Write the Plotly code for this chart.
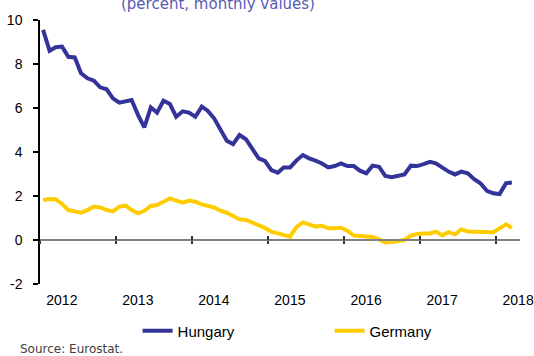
import pandas as pd
import plotly.graph_objects as go

# Monthly long-term interest rates (percent), Jan 2012 - Mar 2018
months = pd.date_range("2012-01-01", periods=75, freq="MS") + pd.Timedelta(days=15)

hungary = [
    9.55, 8.60, 8.76, 8.79, 8.33, 8.30, 7.58, 7.35, 7.24, 6.94, 6.85, 6.44,
    6.24, 6.30, 6.36, 5.68, 5.12, 6.03, 5.79, 6.33, 6.18, 5.60, 5.85, 5.79,
    5.60, 6.06, 5.88, 5.53, 5.00, 4.51, 4.36, 4.77, 4.58, 4.17, 3.71, 3.60,
    3.18, 3.06, 3.30, 3.30, 3.61, 3.86, 3.71, 3.61, 3.48, 3.30, 3.36, 3.48,
    3.36, 3.36, 3.15, 3.03, 3.38, 3.33, 2.91, 2.85, 2.91, 2.98, 3.38, 3.36,
    3.45, 3.55, 3.48, 3.29, 3.11, 2.98, 3.11, 3.03, 2.76, 2.58, 2.24, 2.12,
    2.09, 2.58, 2.61,
]

germany = [
    1.82, 1.86, 1.85, 1.64, 1.36, 1.29, 1.24, 1.36, 1.52, 1.48, 1.36, 1.30,
    1.52, 1.56, 1.36, 1.21, 1.33, 1.55, 1.59, 1.74, 1.89, 1.79, 1.70, 1.79,
    1.74, 1.62, 1.56, 1.48, 1.33, 1.24, 1.09, 0.94, 0.91, 0.79, 0.68, 0.55,
    0.38, 0.30, 0.24, 0.15, 0.58, 0.80, 0.71, 0.61, 0.65, 0.53, 0.53, 0.56,
    0.42, 0.20, 0.18, 0.15, 0.14, 0.03, -0.11, -0.09, -0.06, 0.00, 0.20, 0.27,
    0.29, 0.30, 0.38, 0.21, 0.36, 0.26, 0.48, 0.39, 0.38, 0.38, 0.35, 0.35,
    0.53, 0.71, 0.55,
]

years = ["2012", "2013", "2014", "2015", "2016", "2017", "2018"]
year_starts = [f"{y}-01-01" for y in years]
year_labels_at = [f"{y}-04-15" for y in years]
y_ticks = [-2, 0, 2, 4, 6, 8, 10]
y_labels = ["-2", "0", "2", "4", "6", "8", "10"]

x_range = ["2012-01-01", "2018-04-24"]
tick_font = dict(family="Liberation Sans, Arial, sans-serif", size=14, color="#000000")

fig = go.Figure()
fig.add_trace(go.Scatter(
    x=months, y=hungary, name="Hungary", mode="lines",
    line=dict(color="#333399", width=4),
))
fig.add_trace(go.Scatter(
    x=months, y=germany, name="Germany", mode="lines",
    line=dict(color="#FFCC00", width=4),
))
# invisible copies so the overlay axes (extra ticks, year labels) get drawn
for ax in ("x2", "x3"):
    fig.add_trace(go.Scatter(
        x=months, y=germany, xaxis=ax, mode="lines",
        line=dict(width=0), opacity=0, showlegend=False, hoverinfo="skip",
    ))

zero_pos = (0 - y_ticks[0]) / (y_ticks[-1] - y_ticks[0])

fig.update_layout(
    width=534, height=356,
    margin=dict(l=40, r=14, t=20, b=72, autoexpand=False),
    paper_bgcolor="white", plot_bgcolor="white",
    showlegend=True,
    legend=dict(
        orientation="h", x=0.17 + 16 / 480, xanchor="left",
        yref="container", y=1 - 331 / 356, yanchor="middle",
        font=dict(family="Liberation Sans, Arial, sans-serif", size=15, color="#000000"),
        entrywidth=147, traceorder="normal",
    ),
    # x axis line drawn through zero, ticks below it
    xaxis=dict(
        type="date", range=x_range, anchor="free", position=zero_pos,
        showline=True, linecolor="#808080", linewidth=2,
        tickmode="array", tickvals=year_starts, showticklabels=False,
        ticks="outside", ticklen=3, tickwidth=1.5, tickcolor="#333333",
        showgrid=False, zeroline=False,
    ),
    # same axis, ticks above the line
    xaxis2=dict(
        type="date", range=x_range, overlaying="x", anchor="free", position=zero_pos,
        showline=False, tickmode="array", tickvals=year_starts, showticklabels=False,
        ticks="inside", ticklen=4, tickwidth=1.5, tickcolor="#333333",
        showgrid=False, zeroline=False,
    ),
    # year labels along the bottom of the plot area
    xaxis3=dict(
        type="date", range=x_range, overlaying="x", anchor="y", side="bottom",
        showline=False, ticks="", tickmode="array",
        tickvals=year_labels_at, ticktext=years, tickfont=tick_font,
        ticklabelstandoff=6, showgrid=False, zeroline=False,
    ),
    yaxis=dict(
        range=[-2, 10], tickmode="array", tickvals=y_ticks, ticktext=y_labels,
        showline=True, linecolor="#000000", linewidth=1.5,
        ticks="outside", ticklen=5, tickwidth=1.5, tickcolor="#000000",
        tickfont=tick_font, ticklabelstandoff=8,
        showgrid=False, zeroline=False,
    ),
)

fig.add_annotation(
    text="(percent, monthly values)", xref="paper", yref="paper",
    x=(218 - 40) / 480, y=1 + (20 - 4) / 264, xanchor="center", yanchor="middle",
    showarrow=False,
    font=dict(family="DejaVu Sans, sans-serif", size=15, color="#5a5ab4"),
)
fig.add_annotation(
    text="Source: Eurostat.", xref="paper", yref="paper",
    x=(18 - 40) / 480, y=-(349 - 284) / 264, xanchor="left", yanchor="middle",
    showarrow=False,
    font=dict(family="DejaVu Sans, sans-serif", size=12, color="#404040"),
)

fig.write_html("out.html")
